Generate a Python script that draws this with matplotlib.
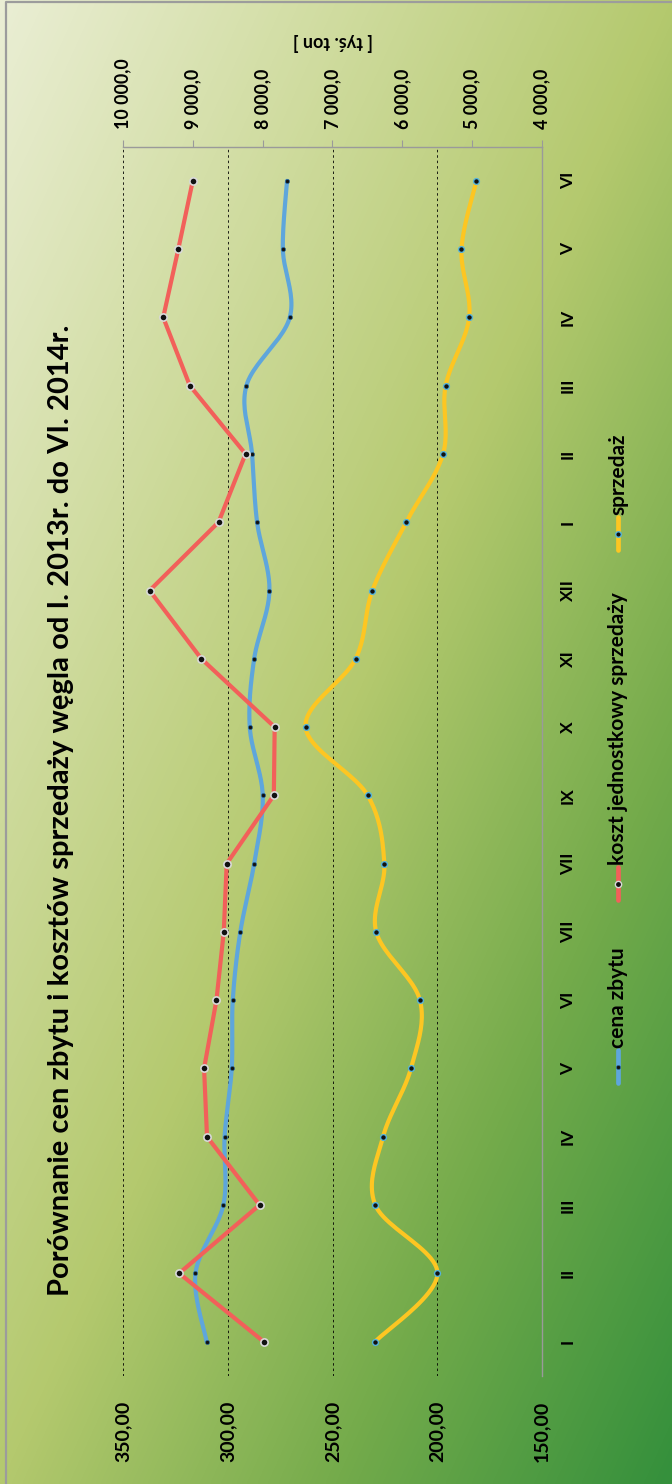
import numpy as np
import matplotlib
matplotlib.use("Agg")
import matplotlib.pyplot as plt
from matplotlib.colors import LinearSegmentedColormap

# miesiące od I 2013 do VI 2014
months = ["I", "II", "III", "IV", "V", "VI", "VII", "VII", "IX", "X", "XI", "XII",
          "I", "II", "III", "IV", "V", "VI"]
# zł/t
cena_zbytu = [310.1, 315.4, 302.1, 301.5, 298.1, 297.6, 294.0, 287.4, 283.3,
              289.5, 287.4, 280.1, 286.0, 288.4, 291.1, 270.4, 273.7, 271.7]
koszt_jedn = [282.9, 323.2, 284.8, 309.9, 311.3, 305.4, 301.9, 300.5, 278.0,
              277.6, 312.6, 337.3, 304.4, 291.5, 318.1, 330.8, 323.6, 316.7]
# tys. ton
sprzedaz = [6387, 5497, 6387, 6276, 5877, 5748, 6374, 6258, 6497,
            7386, 6669, 6429, 5945, 5417, 5380, 5043, 5153, 4939]

price_ticks = [150, 200, 250, 300, 350]
price_labels = ["150,00", "200,00", "250,00", "300,00", "350,00"]
tonnage_ticks = [4000, 5000, 6000, 7000, 8000, 9000, 10000]
tonnage_labels = ["4 000,0", "5 000,0", "6 000,0", "7 000,0", "8 000,0", "9 000,0", "10 000,0"]

BLUE = "#5ea6dc"
RED = "#f2605a"
YELLOW = "#fdc622"
FONT = "Lato"

W, H = 672, 1484


def smooth(vals, n=24):
    """Excel-like smoothed line: Catmull-Rom segments as cubic Beziers."""
    y = np.asarray(vals, float)
    x = np.arange(len(y), dtype=float)
    P = np.column_stack([y, x])
    P = np.vstack([P[0], P, P[-1]])
    t = np.linspace(0, 1, n)[:, None]
    parts = []
    for i in range(1, len(P) - 2):
        p0, p1 = P[i], P[i + 1]
        c1 = p0 + (p1 - P[i - 1]) / 6.0
        c2 = p1 - (P[i + 2] - p0) / 6.0
        seg = ((1 - t) ** 3) * p0 + 3 * ((1 - t) ** 2) * t * c1 + 3 * (1 - t) * t ** 2 * c2 + t ** 3 * p1
        parts.append(seg if i == 1 else seg[1:])
    out = np.vstack(parts)
    return out[:, 0], out[:, 1]


fig = plt.figure(figsize=(W / 100, H / 100), dpi=100)
fig.patch.set_facecolor("white")

# gradient background
bg = fig.add_axes([0, 0, 1, 1], zorder=0)
gx, gy = np.meshgrid(np.linspace(0, 1, 200), np.linspace(0, 1, 400))
grad = 0.5 * gx + 0.5 * gy
cmap = LinearSegmentedColormap.from_list(
    "bg", [(0.0, "#eaeed4"), (0.25, "#d0dca0"), (0.5, "#b4c96e"),
           (0.75, "#74ab4b"), (1.0, "#35903c")])
bg.imshow(grad, cmap=cmap, aspect="auto", extent=[0, W, H, 0], interpolation="bilinear")
bg.set_xlim(0, W)
bg.set_ylim(H, 0)
bg.axis("off")

# main plot: values run horizontally, months vertically
left, right, top, bottom = 123, 542, 146.7, 1375.7
ax = fig.add_axes([left / W, 1 - bottom / H, (right - left) / W, (bottom - top) / H], zorder=1)
ax.patch.set_visible(False)
ax.set_xlim(350, 150)
ax.set_ylim(-0.5, len(months) - 0.5)

ax2 = ax.twiny()
ax2.set_xlim(10000, 4000)
ax2.patch.set_visible(False)

# tonnage
sx, sy = smooth(sprzedaz)
ax2.plot(sx, sy, color=YELLOW, lw=3.0, solid_capstyle="round", zorder=3)
ax2.plot(sprzedaz, np.arange(len(months)), ls="none", marker="o", ms=4.2,
         mfc="#111111", mec="#55b4dc", mew=1.0, zorder=4)

# prices
bx, by = smooth(cena_zbytu)
ax2.plot(np.interp(bx, [150, 350], [4000, 10000]), by, color=BLUE, lw=3.0,
         solid_capstyle="round", zorder=5)
ax2.plot(np.interp(cena_zbytu, [150, 350], [4000, 10000]), np.arange(len(months)),
         ls="none", marker="o", ms=3.0, mfc="#111111", mec="#2f6f9f", mew=0.5, zorder=6)
ax2.plot(np.interp(koszt_jedn, [150, 350], [4000, 10000]), np.arange(len(months)),
         color=RED, lw=3.0, marker="o", ms=5.2, mfc="#111111", mec="#d9d9d9",
         mew=1.2, solid_capstyle="round", zorder=7)

# grid and axes
for sp in ax.spines.values():
    sp.set_visible(False)
ax.spines["right"].set_visible(True)
ax.spines["right"].set_color("#9a9a9a")
ax.spines["right"].set_linewidth(1.0)
ax.set_xticks(price_ticks)
ax.set_xticklabels(price_labels, rotation=90, fontsize=14, fontweight="bold",
                   family=FONT)
ax.tick_params(axis="x", length=0, pad=18)
for v in price_ticks[1:]:
    ax.axvline(v, color="black", lw=0.6, ls=(0, (3, 3.5)), zorder=0)

ax.yaxis.tick_right()
ax.set_yticks(np.arange(len(months)))
ax.set_yticklabels(months, rotation=90, fontsize=12.5, fontweight="bold", family=FONT,
                   va="center")
ax.tick_params(axis="y", length=0, pad=13)

for sp in ax2.spines.values():
    sp.set_visible(False)
ax2.spines["top"].set_visible(True)
ax2.spines["top"].set_color("#9a9a9a")
ax2.spines["top"].set_linewidth(1.0)
ax2.set_xticks(tonnage_ticks)
ax2.set_xticklabels(tonnage_labels, rotation=90, fontsize=12.8, fontweight="bold",
                    family=FONT)
ax2.tick_params(axis="x", direction="out", length=5, color="#9a9a9a", pad=8)

# overlay in pixel coordinates: frame, title, legend
ov = fig.add_axes([0, 0, 1, 1], zorder=3)
ov.set_xlim(0, W)
ov.set_ylim(H, 0)
ov.axis("off")
ov.plot([6, 6, W + 5], [H + 5, 2, 2], color="#9c9c9c", lw=1.6)

ov.text(69, 810, "Porównanie cen zbytu i kosztów sprzedaży węgla od I. 2013r. do VI. 2014r.",
        rotation=90, rotation_mode="anchor", ha="center", va="baseline",
        fontsize=21, fontweight="bold", family=FONT)
ov.text(333, 42, "[ tyś. ton ]", rotation=180, ha="center", va="center",
        fontsize=13, fontweight="bold", family=FONT)

legend = [
    ("cena zbytu", BLUE, 1083, 1050, 3.0, "#2f6f9f", 0.5),
    ("koszt jednostkowy sprzedaży", RED, 900, 867, 4.5, "#d9d9d9", 1.0),
    ("sprzedaż", YELLOW, 550, 517, 4.0, "#55b4dc", 1.0),
]
for label, col, y0, y1, ms, mec, mew in legend:
    ov.plot([617.5, 617.5], [y0, y1], color=col, lw=3.4, solid_capstyle="round")
    ov.plot([617.5], [(y0 + y1) / 2], marker="o", ms=ms, mfc="#111111", mec=mec, mew=mew)
    ov.text(624, y1 - 2, label, rotation=90, rotation_mode="anchor", ha="left",
            va="baseline", fontsize=15, fontweight="bold", family=FONT)

fig.savefig("out.png", dpi=100)
